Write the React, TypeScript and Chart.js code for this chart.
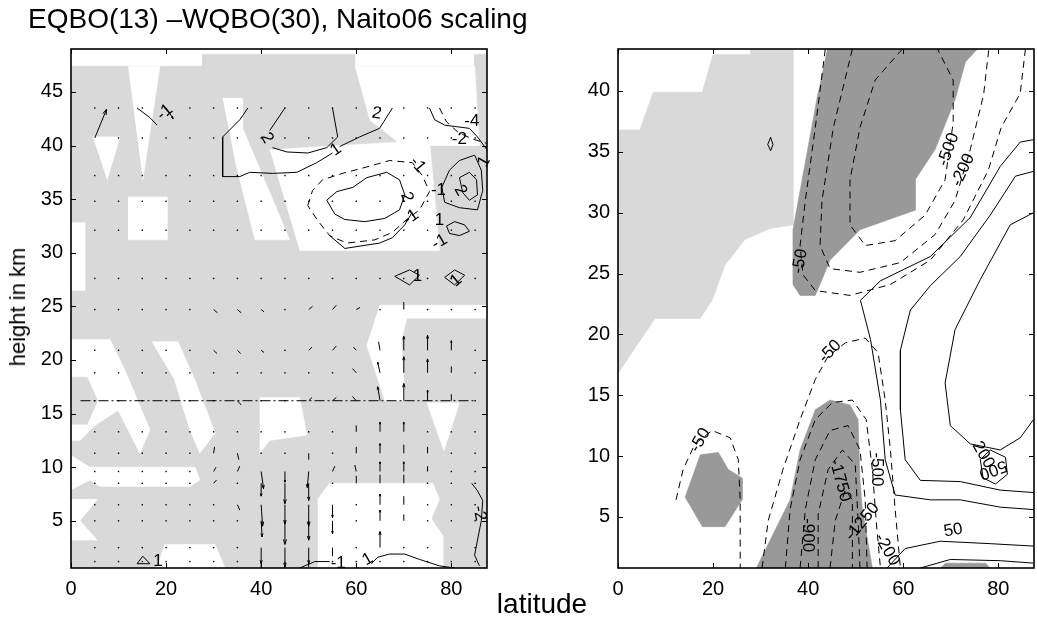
import React, { useEffect, useRef } from "react";
import { Chart, registerables } from "chart.js";
Chart.register(...registerables);

type P = [number, number];
type Lbl = [string, number, number, number];
type Arrow = [number, number, number, number];

const FONT = '"Liberation Sans", Arial, Helvetica, sans-serif';
const LIGHT = "rgb(217,217,217)";
const DARK = "rgb(153,153,153)";
const WHITE = "#ffffff";

const titleText = "EQBO(13) \u2013WQBO(30), Naito06 scaling";
const xLabel = "latitude";
const yLabel = "height in km";

const latRange: P = [0, 87.5];
const leftZRange: P = [0.6, 49];
const rightZRange: P = [0.8, 43.45];
const latTicks = [0, 20, 40, 60, 80];
const leftZTicks = [5, 10, 15, 20, 25, 30, 35, 40, 45];
const rightZTicks = [5, 10, 15, 20, 25, 30, 35, 40];

// ---------- left panel: shading ----------
const leftShadeBase: P[] = [[0, 0.6], [87.5, 0.6], [87.5, 48.5], [84.9, 48.5], [84.9, 47.4], [59.7, 47.4], [59.7, 48.5], [27.7, 48.5], [27.7, 47.4], [0, 47.4]];
const leftHoles: P[][] = [
  [[12.0, 47.4], [18.7, 47.4], [15.1, 36.8]],
  [[4.6, 40.8], [10.3, 40.8], [7.6, 36.8]],
  [[31.9, 44.4], [36.1, 44.4], [36.1, 41.6], [46.0, 31.2], [38.7, 31.2], [34.5, 38.6]],
  [[59.7, 47.4], [84.9, 47.4], [85.9, 40.0], [69.7, 40.0], [62.8, 42.4]],
  [[41.8, 39.6], [75.4, 40.5], [77.5, 30.2], [48.1, 30.2]],
  [[0, 32.8], [2.9, 32.8], [2.9, 26.5], [0, 26.5]],
  [[12.0, 35.2], [20.2, 35.2], [20.2, 31.2], [12.0, 31.2]],
  [[64.9, 25.1], [87.5, 25.1], [87.5, 23.9], [70.6, 23.9], [69.5, 21.8], [70.2, 16.2], [66.0, 16.2], [63.9, 19.1], [62.2, 21.4]],
  [[0, 21.9], [8.2, 21.9], [11.3, 19.1], [16.6, 13.5], [14.5, 11.3], [9.9, 15.3], [5.0, 13.9], [1.9, 12.5], [0, 12.5]],
  [[17.0, 21.7], [22.5, 21.7], [26.1, 18.1], [30.3, 13.2], [27.1, 11.3], [25.0, 13.5], [21.8, 18.1]],
  [[39.7, 16.5], [48.1, 16.5], [49.6, 13.0], [41.8, 12.5], [39.7, 11.3]],
  [[74.8, 16.0], [81.7, 16.0], [78.4, 11.5]],
  [[0, 11.1], [4.0, 10.0], [26.1, 10.0], [27.1, 8.8], [25.0, 8.2], [6.1, 8.2], [4.0, 8.8], [0, 7.9]],
  [[0, 7.0], [5.5, 7.0], [1.9, 5.0], [5.5, 3.2], [0, 3.2]],
  [[18.1, 0.6], [19.7, 2.8], [30.3, 2.8], [32.4, 0.6]],
  [[51.9, 7.0], [54.4, 8.5], [76.1, 8.5], [77.5, 7.0], [75.8, 5.2], [78.2, 3.6], [78.2, 0.6], [51.9, 0.6]],
];
const leftIslands: P[][] = [
  [[0, 18.4], [3.4, 18.4], [5.6, 16.2], [3.4, 14.0], [0, 14.0]],
];

// ---------- left panel: contours ----------
const leftSolid: P[][] = [
  [[13.9, 43.5], [16.6, 42.6], [18.1, 41.9]],
  [[37.2, 43.5], [35.5, 42.4], [31.9, 40.8], [31.9, 37.1], [35.5, 37.1], [37.6, 37.5], [42.4, 37.4], [47.5, 37.5], [51.7, 38.4], [55.0, 39.3]],
  [[56.5, 39.9], [60.7, 40.8], [64.9, 41.6], [67.6, 43.5]],
  [[45.0, 43.5], [41.8, 41.4]],
  [[42.4, 39.8], [45.4, 39.4], [49.8, 39.3], [53.8, 39.8], [56.1, 40.8], [55.0, 43.5]],
  [[53.8, 34.9], [55.9, 35.7], [59.3, 36.1], [62.2, 37.0], [66.4, 37.5], [69.1, 36.8], [70.2, 35.4], [69.1, 34.0], [66.0, 33.2], [61.8, 32.9], [57.6, 33.1], [55.5, 33.6], [53.8, 34.9]],
  [[54.4, 31.6], [57.6, 30.4], [64.9, 30.9], [67.6, 31.4], [70.2, 32.6], [71.8, 33.8]],
  [[79.6, 37.7], [81.7, 38.6], [84.9, 39.1], [86.3, 37.7], [86.6, 35.8], [85.5, 34.0], [81.7, 34.2], [78.6, 34.7], [78.0, 36.1], [79.6, 37.7]],
  [[81.7, 37.0], [83.8, 37.5], [85.3, 36.8], [85.5, 35.4], [83.8, 34.9], [82.4, 35.6], [81.7, 37.0]],
  [[75.4, 43.5], [76.5, 42.4], [78.6, 41.9], [83.8, 41.6], [85.5, 40.8], [87.5, 39.6]],
  [[79.0, 32.5], [80.7, 32.9], [82.8, 32.6], [83.8, 32.0], [81.7, 31.6], [79.6, 31.8], [79.0, 32.5]],
  [[68.1, 27.8], [71.2, 28.4], [73.3, 27.9], [71.2, 27.0], [68.1, 27.8]],
  [[78.6, 27.7], [80.7, 28.4], [82.8, 27.9], [80.7, 27.0], [78.6, 27.7]],
  [[13.9, 1.0], [15.1, 1.7], [16.6, 1.0], [13.9, 1.0]],
  [[48.1, 0.6], [51.3, 1.2], [54.4, 1.2]],
  [[63.2, 1.0], [64.5, 1.6], [67.0, 1.9], [70.2, 1.9], [73.3, 1.4], [77.5, 0.8], [80.7, 0.6]],
  [[84.3, 8.5], [85.5, 7.8], [86.6, 6.9], [86.3, 5.0], [85.5, 3.2], [84.9, 1.8], [85.9, 0.8]],
];
const leftDashed: P[][] = [
  [[49.8, 34.4], [50.8, 35.8], [52.9, 36.8], [57.1, 37.4], [62.2, 38.0], [67.0, 38.6], [71.8, 38.4], [73.9, 37.2], [75.4, 35.7], [73.3, 34.0], [70.6, 33.1], [67.6, 31.9], [63.9, 31.2], [58.0, 30.9], [54.4, 31.6], [51.9, 33.0], [49.8, 34.4]],
  [[77.5, 43.5], [79.0, 42.2], [81.5, 41.2], [84.5, 40.6], [87.5, 40.2]],
];
const tropopause: P[] = [[2, 16.2], [85, 16.2]];
const leftLabels: Lbl[] = [
  ["-1", 19.7, 43.1, -40], ["1", 55.7, 39.6, -35], ["2", 41.2, 40.7, 60], ["2", 64.3, 43.0, 10],
  ["-1", 72.9, 38.2, 50], ["2", 70.6, 35.2, 70], ["-1", 71.5, 33.3, -35], ["-4", 84.3, 42.3, 0],
  ["-2", 81.7, 40.6, 0], ["-1", 77.3, 35.8, 0], ["2", 81.9, 35.8, 60], ["1", 86.9, 38.5, -60],
  ["1", 77.5, 33.0, 0], ["-1", 77.5, 31.0, -30], ["1", 72.9, 27.8, 0], ["1", 81.0, 27.4, -40],
  ["1", 18.3, 1.2, 0], ["-1", 56.2, 1.0, 0], ["1", 62.4, 1.4, -30], ["-2", 85.9, 5.7, 80],
];

// ---------- left panel: quiver ----------
const quiverLats = [5, 10, 15, 20, 25, 30, 35, 40, 45, 50, 55, 60, 65, 70, 75, 80, 85];
const quiverLevels = [1.2, 2.5, 5.0, 6.5, 8.5, 9.6, 11.3, 13.3, 16.2, 18.8, 20.9, 24.7, 27.6, 32.1, 34.8, 37.2, 40.7, 43.5];
const leftArrows: Arrow[] = [
  [5, 40.7, 2.5, 2.7], [20, 43.5, 1.5, -1.0],
  [30, 24.7, 0.8, -0.3], [35, 24.7, 0.8, -0.3], [40, 24.7, 0.6, -0.2], [50, 24.7, 0.8, 0.3], [55, 24.7, 0.8, 0.4], [60, 24.7, 0.8, 0.2],
  [30, 20.9, 0.7, -0.3], [35, 20.9, 0.7, -0.3], [40, 20.9, 0.6, -0.2], [50, 20.9, 0.7, 0.3], [55, 20.9, 0.8, 0.4],
  [60, 20.9, -0.6, 0.3], [60, 18.8, -0.8, 0.4], [35, 16.2, 0.8, -0.4], [50, 16.2, 0.7, 0.3], [55, 16.2, 0.8, 0.3], [60, 16.2, -0.8, 0.4],
  [65, 20.9, -0.3, 0.8], [65, 18.8, -0.5, 1.0], [65, 16.2, -0.5, 1.3],
  [70, 24.7, 0, 0.7], [70, 20.9, 0, 1.3], [70, 18.8, 0, 1.5], [70, 16.2, 0, 1.6],
  [75, 20.9, 0, 1.4], [75, 18.8, 0, 1.3], [75, 16.2, 0, 1.0],
  [80, 20.9, 0, 0.9], [80, 18.8, 0, 0.6], [80, 16.2, 0, 0.6],
  [60, 13.3, 0, 0.6], [65, 13.3, 0, 0.9], [70, 13.3, 0, 0.9], [60, 11.3, 0, 0.6], [65, 11.3, 0, 0.9], [70, 11.3, 0, 0.8], [75, 11.3, 0, 0.6],
  [60, 9.6, -0.3, 0.6], [65, 9.6, 0, 0.9], [70, 9.6, 0, 0.9], [75, 9.6, 0, 0.5], [65, 8.5, 0, 0.8], [70, 8.5, 0, 0.8], [60, 8.5, 0, 0.7],
  [65, 6.5, 0, 1.0], [65, 5.0, 0, 1.0], [70, 6.5, 0, 0.8], [70, 5.0, 0, 0.6], [65, 2.5, 0, 1.5],
  [30, 11.3, 0.2, 0.6], [30, 9.6, 0.5, 0.4], [30, 8.5, 0.6, 0.3],
  [35, 11.3, 0.3, -0.6], [35, 9.6, 0.5, 0.5], [35, 6.5, 0.5, -0.5],
  [40, 9.6, 0.5, -1.6], [40, 8.5, 0, -1.2], [40, 6.5, 0.3, -2.0], [40, 5.0, 0.2, -1.5], [40, 2.5, 0, -1.5], [40, 1.2, 0, -0.6],
  [45, 9.6, 0, -1.0], [45, 8.5, 0, -1.9], [45, 6.5, 0, -1.8], [45, 5.0, 0, -2.2], [45, 2.5, 0, -1.8], [45, 1.2, 0, -0.8],
  [50, 11.3, 0, -0.6], [50, 9.6, -0.3, -1.5], [50, 8.5, 0, -1.6], [50, 6.5, 0, -2.0], [50, 5.0, 0, -1.8], [50, 2.5, 0, -1.5], [50, 1.2, 0, -0.5],
  [55, 9.6, 0.5, 0.5], [55, 6.5, 0, -1.2], [55, 5.0, 0, -1.2], [55, 2.5, 0, -0.8],
];

// ---------- right panel: shading ----------
const rightLight: P[] = [[27.8, 43.45], [36.8, 43.45], [36.8, 29.0], [32.0, 28.7], [26.7, 27.8], [22.5, 25.7], [19.8, 22.8], [17.3, 21.3], [7.8, 21.3], [0, 16.8], [0, 36.8], [4.6, 36.8], [7.4, 39.9], [17.7, 39.9], [20.0, 43.0], [27.8, 43.0]];
const rightDarkUpper: P[] = [[44.0, 43.45], [75.6, 43.45], [73.1, 42.4], [70.9, 39.3], [66.7, 35.2], [62.5, 32.7], [62.5, 30.2], [50.9, 28.6], [44.6, 26.1], [41.5, 23.2], [38.3, 23.2], [36.8, 24.1], [36.8, 28.6], [42.1, 39.9]];
const rightDarkLower: P[] = [[29.1, 0.8], [36.2, 6.4], [38.3, 10.5], [41.5, 13.8], [44.6, 14.6], [48.8, 14.2], [50.5, 13.0], [50.9, 8.0], [51.4, 5.6], [53.5, 0.8]];
const rightDarkSmall: P[] = [[14.1, 6.6], [17.3, 10.1], [21.1, 10.3], [23.2, 8.9], [26.1, 8.2], [26.1, 6.4], [22.5, 4.2], [17.7, 4.2]];
const rightDarkBottom: P[] = [[67.8, 0.8], [78.3, 0.8], [77.3, 1.2], [68.8, 1.2]];

// ---------- right panel: contours ----------
const rightDashed: P[][] = [
  [[85.7, 43.45], [84.6, 39.8], [80.6, 37.0], [77.9, 33.5], [72.6, 29.4], [65.7, 26.1], [57.3, 24.1], [48.8, 23.2], [41.5, 23.6], [38.9, 24.9], [38.3, 27.3], [39.4, 31.0], [41.5, 37.0], [43.6, 43.45]],
  [[49.3, 43.45], [45.3, 37.0], [42.9, 31.0], [42.5, 27.3], [44.6, 25.4], [50.9, 25.1], [59.4, 25.9], [66.7, 28.2], [70.9, 31.0], [74.1, 35.2], [76.9, 39.7], [78.0, 43.45]],
  [[59.8, 43.45], [54.1, 40.9], [50.9, 37.0], [48.8, 32.7], [48.8, 29.0], [52.0, 27.3], [58.3, 27.7], [64.6, 29.8], [68.8, 32.7], [70.5, 37.4], [70.5, 40.9], [67.2, 43.45]],
  [[12.2, 6.4], [13.7, 8.9], [16.2, 11.0], [19.8, 12.1], [23.6, 11.5], [25.3, 9.7], [25.7, 6.4], [25.7, 0.8]],
  [[30.3, 0.8], [31.6, 4.7], [34.7, 8.9], [38.3, 13.0], [41.5, 16.3], [44.2, 18.2], [47.8, 19.3], [52.0, 19.7], [54.7, 18.5], [56.2, 14.6], [57.3, 10.5], [58.3, 5.6], [59.4, 0.8]],
  [[35.2, 0.8], [36.2, 5.6], [38.3, 9.7], [41.5, 13.0], [45.1, 14.4], [49.3, 14.6], [52.2, 13.0], [53.5, 8.9], [54.3, 4.7], [55.2, 0.8]],
  [[38.3, 0.8], [39.4, 5.6], [41.5, 9.7], [44.6, 12.1], [48.4, 12.5], [50.9, 10.5], [52.0, 6.4], [52.4, 0.8]],
  [[42.1, 0.8], [42.1, 5.2], [44.2, 8.9], [47.2, 10.5], [49.9, 9.3], [50.5, 4.7], [50.9, 0.8]],
  [[44.6, 0.8], [45.7, 4.7], [47.8, 7.2], [49.3, 6.4], [49.3, 0.8]],
];
const rightSolid: P[][] = [
  [[87.4, 36.0], [84.6, 35.8], [80.4, 33.8], [74.1, 29.6], [65.7, 26.4], [55.2, 24.4], [51.0, 22.8], [53.1, 19.6], [55.2, 14.6], [56.2, 9.7], [58.3, 6.8], [65.7, 6.4], [72.0, 6.4], [80.4, 5.8], [87.4, 5.6]],
  [[87.4, 33.4], [83.6, 33.0], [78.3, 29.8], [72.0, 26.4], [65.7, 24.0], [61.5, 22.0], [59.4, 18.7], [59.4, 13.8], [60.4, 9.7], [63.6, 8.0], [72.0, 7.9], [80.4, 7.2], [87.4, 7.0]],
  [[87.4, 30.0], [82.5, 29.0], [76.2, 24.5], [70.9, 20.4], [68.8, 16.0], [69.9, 12.5], [74.1, 11.0], [80.4, 10.5], [84.6, 11.5], [87.4, 13.0]],
  [[76.2, 9.7], [78.3, 10.5], [81.5, 9.9], [81.9, 8.5], [79.4, 7.7], [76.8, 8.2], [76.2, 9.7]],
  [[56.6, 0.8], [60.4, 2.4], [67.8, 3.0], [78.3, 2.8], [87.4, 2.6]],
  [[63.6, 0.8], [69.9, 1.5], [80.4, 1.4], [87.4, 1.2]],
  [[31.5, 35.6], [32.1, 36.2], [32.6, 35.6], [32.1, 35.1], [31.5, 35.6]],
];
const rightLabels: Lbl[] = [
  ["-50", 38.3, 26.0, -80], ["-500", 69.5, 35.2, -70], ["-200", 72.6, 33.5, -65],
  ["-50", 44.6, 18.6, -45], ["-50", 17.3, 11.3, -60], ["-1750", 46.7, 8.0, 75],
  ["-1250", 51.4, 4.6, -50], ["-900", 40.0, 3.5, 90], ["-500", 54.5, 8.9, 90],
  ["-200", 56.6, 2.3, 60], ["50", 70.5, 3.9, -10], ["200", 76.8, 10.1, 60], ["500", 78.9, 8.9, 160],
];

// ---------- chart construction ----------
type Panel = {
  zTicks: number[];
  zRange: P;
  yAxisWidth: number;
  padRight: number;
  fills: [P[], string][];
  solid: P[][];
  dashed: P[][];
  dashdot: P[][];
  labels: Lbl[];
  arrows: Arrow[] | null;
};

const toXY = (pts: P[]) => pts.map(([x, y]) => ({ x, y }));

function buildChart(canvas: HTMLCanvasElement, p: Panel) {
  const datasets: any[] = [];
  p.fills.forEach(([pts, color]) =>
    datasets.push({ data: toXY(pts), fill: "shape", backgroundColor: color, borderColor: color, borderWidth: 0.6, pointRadius: 0 })
  );
  p.solid.forEach((pts) => datasets.push({ data: toXY(pts), fill: false, borderColor: "#000", borderWidth: 1, pointRadius: 0 }));
  p.dashed.forEach((pts) =>
    datasets.push({ data: toXY(pts), fill: false, borderColor: "#000", borderWidth: 1, borderDash: [7, 5], pointRadius: 0 })
  );
  p.dashdot.forEach((pts) =>
    datasets.push({ data: toXY(pts), fill: false, borderColor: "#000", borderWidth: 1, borderDash: [10, 3, 2, 3], pointRadius: 0 })
  );
  datasets.forEach((d, i) => {
    d.order = datasets.length - i;
    d.tension = 0;
  });

  const deco = {
    id: "deco",
    afterDatasetsDraw(chart: any) {
      const ctx = chart.ctx;
      const xs = chart.scales.x;
      const ys = chart.scales.y;
      const a = chart.chartArea;
      ctx.save();
      ctx.beginPath();
      ctx.rect(a.left, a.top, a.right - a.left, a.bottom - a.top);
      ctx.clip();
      if (p.arrows) {
        const map = new Map<string, Arrow>();
        p.arrows.forEach((ar) => map.set(ar[0] + "|" + ar[1], ar));
        ctx.fillStyle = "#000";
        ctx.strokeStyle = "#000";
        ctx.lineWidth = 1;
        for (const lat of quiverLats) {
          for (const z of quiverLevels) {
            const px = xs.getPixelForValue(lat);
            const py = ys.getPixelForValue(z);
            const ar = map.get(lat + "|" + z);
            if (!ar) {
              ctx.fillRect(px - 0.7, py - 0.7, 1.4, 1.4);
              continue;
            }
            const qx = xs.getPixelForValue(lat + ar[2]);
            const qy = ys.getPixelForValue(z + ar[3]);
            ctx.beginPath();
            ctx.moveTo(px, py);
            ctx.lineTo(qx, qy);
            const len = Math.hypot(qx - px, qy - py);
            if (len > 9) {
              const ang = Math.atan2(qy - py, qx - px);
              const h = Math.min(len * 0.22, 6);
              ctx.moveTo(qx, qy);
              ctx.lineTo(qx - h * Math.cos(ang - 0.3), qy - h * Math.sin(ang - 0.3));
              ctx.moveTo(qx, qy);
              ctx.lineTo(qx - h * Math.cos(ang + 0.3), qy - h * Math.sin(ang + 0.3));
            }
            ctx.stroke();
          }
        }
      }
      ctx.restore();
      ctx.save();
      ctx.fillStyle = "#000";
      ctx.font = "17px " + FONT;
      ctx.textAlign = "center";
      ctx.textBaseline = "middle";
      for (const [t, lat, z, rot] of p.labels) {
        ctx.save();
        ctx.translate(xs.getPixelForValue(lat), ys.getPixelForValue(z));
        ctx.rotate((rot * Math.PI) / 180);
        ctx.fillText(t, 0, 0);
        ctx.restore();
      }
      ctx.restore();
    },
    afterDraw(chart: any) {
      const ctx = chart.ctx;
      const a = chart.chartArea;
      const xs = chart.scales.x;
      const ys = chart.scales.y;
      ctx.save();
      ctx.strokeStyle = "#000";
      ctx.lineWidth = 1.6;
      ctx.strokeRect(a.left, a.top, a.right - a.left, a.bottom - a.top);
      ctx.lineWidth = 1;
      ctx.beginPath();
      const tl = 5;
      for (const v of latTicks) {
        const x = Math.round(xs.getPixelForValue(v)) + 0.5;
        ctx.moveTo(x, a.bottom);
        ctx.lineTo(x, a.bottom - tl);
        ctx.moveTo(x, a.top);
        ctx.lineTo(x, a.top + tl);
      }
      for (const v of p.zTicks) {
        const y = Math.round(ys.getPixelForValue(v)) + 0.5;
        ctx.moveTo(a.left, y);
        ctx.lineTo(a.left + tl, y);
        ctx.moveTo(a.right, y);
        ctx.lineTo(a.right - tl, y);
      }
      ctx.stroke();
      ctx.restore();
    },
  };

  const tickFont = { family: FONT, size: 20 };
  return new Chart(canvas, {
    type: "line",
    data: { datasets },
    plugins: [deco],
    options: {
      animation: false,
      responsive: false,
      devicePixelRatio: 1,
      layout: { padding: { top: 49, right: p.padRight, left: 0, bottom: 0 } },
      plugins: { legend: { display: false }, tooltip: { enabled: false }, title: { display: false } },
      scales: {
        x: {
          type: "linear",
          min: latRange[0],
          max: latRange[1],
          afterBuildTicks: (s: any) => {
            s.ticks = latTicks.map((v) => ({ value: v }));
          },
          afterFit: (s: any) => {
            s.height = 62;
          },
          grid: { display: false, drawTicks: false },
          border: { display: false },
          ticks: { font: tickFont, color: "#000", padding: 9, maxRotation: 0, autoSkip: false },
        },
        y: {
          type: "linear",
          min: p.zRange[0],
          max: p.zRange[1],
          afterBuildTicks: (s: any) => {
            s.ticks = p.zTicks.map((v) => ({ value: v }));
          },
          afterFit: (s: any) => {
            s.width = p.yAxisWidth;
          },
          grid: { display: false, drawTicks: false },
          border: { display: false },
          ticks: { font: tickFont, color: "#000", padding: 8, autoSkip: false },
        },
      },
    } as any,
  });
}

export default function App() {
  const leftRef = useRef<HTMLCanvasElement>(null);
  const rightRef = useRef<HTMLCanvasElement>(null);

  useEffect(() => {
    const c1 = buildChart(leftRef.current!, {
      zTicks: leftZTicks,
      zRange: leftZRange,
      yAxisWidth: 71,
      padRight: 13,
      fills: [
        [leftShadeBase, LIGHT],
        ...leftHoles.map((h) => [h, WHITE] as [P[], string]),
        ...leftIslands.map((h) => [h, LIGHT] as [P[], string]),
      ],
      solid: leftSolid,
      dashed: leftDashed,
      dashdot: [tropopause],
      labels: leftLabels,
      arrows: leftArrows,
    });
    const c2 = buildChart(rightRef.current!, {
      zTicks: rightZTicks,
      zRange: rightZRange,
      yAxisWidth: 98,
      padRight: 3,
      fills: [
        [rightLight, LIGHT],
        [rightDarkUpper, DARK],
        [rightDarkLower, DARK],
        [rightDarkSmall, DARK],
        [rightDarkBottom, DARK],
      ],
      solid: rightSolid,
      dashed: rightDashed,
      dashdot: [],
      labels: rightLabels,
      arrows: null,
    });
    return () => {
      c1.destroy();
      c2.destroy();
    };
  }, []);

  const text: React.CSSProperties = { position: "absolute", fontFamily: FONT, color: "#000", lineHeight: 1, whiteSpace: "nowrap" };
  return (
    <div style={{ position: "absolute", left: 0, top: 0, width: 1037, height: 630, background: "#fff", overflow: "hidden" }}>
      <canvas ref={leftRef} width={500} height={630} style={{ position: "absolute", left: 0, top: 0, width: 500, height: 630 }} />
      <canvas ref={rightRef} width={517} height={630} style={{ position: "absolute", left: 520, top: 0, width: 517, height: 630 }} />
      <div style={{ ...text, left: 28, top: 5, fontSize: 28 }}>{titleText}</div>
      <div style={{ ...text, left: 542, top: 590, fontSize: 28, transform: "translateX(-50%)" }}>{xLabel}</div>
      <div style={{ ...text, left: 18, top: 307, fontSize: 22, transform: "translate(-50%, -50%) rotate(-90deg)" }}>{yLabel}</div>
    </div>
  );
}
